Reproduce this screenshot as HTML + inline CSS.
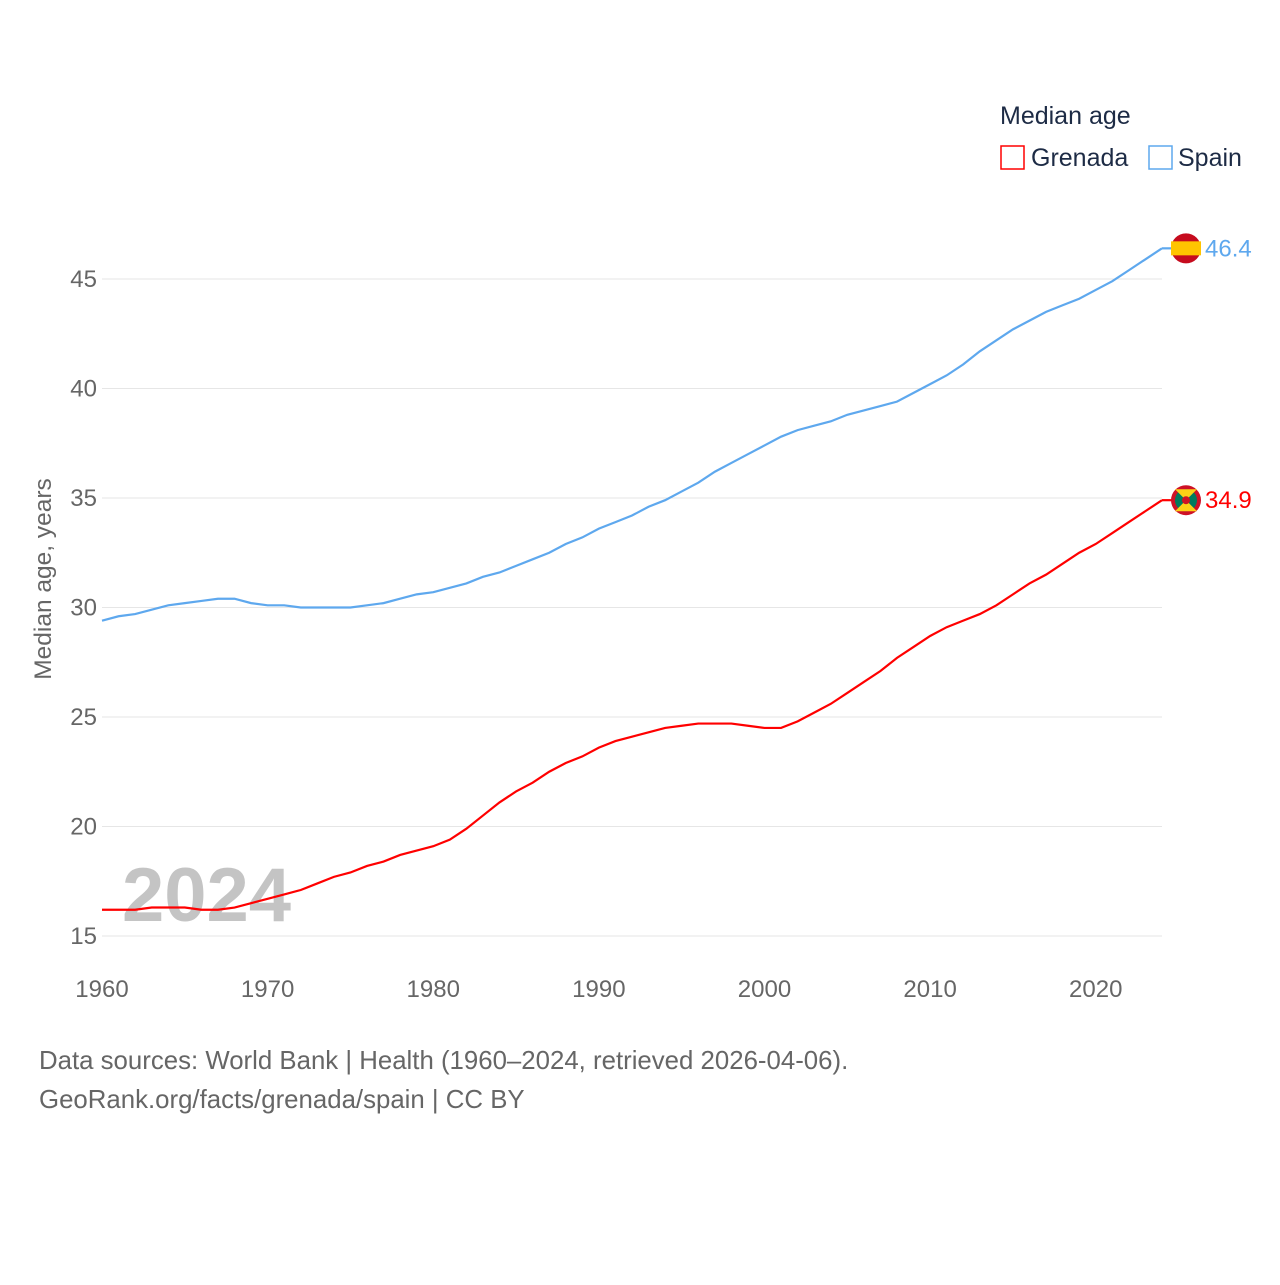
<!DOCTYPE html>
<html><head><meta charset="utf-8"><style>
body{margin:0;background:#fff;width:1280px;height:1280px;overflow:hidden;font-family:"Liberation Sans",sans-serif}
svg text{font-family:"Liberation Sans",sans-serif}
</style></head><body>
<svg id="chart" width="1280" height="1280" xmlns="http://www.w3.org/2000/svg">
<text x="1000" y="124" font-size="25" fill="#1d2b45">Median age</text>
<rect x="1001" y="146" width="23" height="23" fill="none" stroke="#ff0000" stroke-width="1.5"/>
<text x="1031" y="166" font-size="25" fill="#1d2b45">Grenada</text>
<rect x="1149" y="146" width="23" height="23" fill="none" stroke="#5ea8ee" stroke-width="1.5"/>
<text x="1178" y="166" font-size="25" fill="#1d2b45">Spain</text>
<g id="grid"></g><g id="xt"></g>
<text x="122" y="921" font-size="76" font-weight="bold" fill="#c4c4c4">2024</text>
<g id="lines"></g>
<text transform="translate(51,579) rotate(-90)" text-anchor="middle" font-size="24.5" fill="#666">Median age, years</text>
<text x="39" y="1069" font-size="25.8" fill="#666">Data sources: World Bank | Health (1960–2024, retrieved 2026-04-06).</text>
<text x="39" y="1108" font-size="25.8" fill="#666">GeoRank.org/facts/grenada/spain | CC BY</text>
</svg>
<script>
const years=[];for(let y=1960;y<=2024;y++)years.push(y);
const spain=[29.4,29.6,29.7,29.9,30.1,30.2,30.3,30.4,30.4,30.2,30.1,30.1,30.0,30.0,30.0,30.0,30.1,30.2,30.4,30.6,30.7,30.9,31.1,31.4,31.6,31.9,32.2,32.5,32.9,33.2,33.6,33.9,34.2,34.6,34.9,35.3,35.7,36.2,36.6,37.0,37.4,37.8,38.1,38.3,38.5,38.8,39.0,39.2,39.4,39.8,40.2,40.6,41.1,41.7,42.2,42.7,43.1,43.5,43.8,44.1,44.5,44.9,45.4,45.9,46.4];
const grenada=[16.2,16.2,16.2,16.3,16.3,16.3,16.2,16.2,16.3,16.5,16.7,16.9,17.1,17.4,17.7,17.9,18.2,18.4,18.7,18.9,19.1,19.4,19.9,20.5,21.1,21.6,22.0,22.5,22.9,23.2,23.6,23.9,24.1,24.3,24.5,24.6,24.7,24.7,24.7,24.6,24.5,24.5,24.8,25.2,25.6,26.1,26.6,27.1,27.7,28.2,28.7,29.1,29.4,29.7,30.1,30.6,31.1,31.5,32.0,32.5,32.9,33.4,33.9,34.4,34.9];
const yTicks=[15,20,25,30,35,40,45];
const xTicks=[1960,1970,1980,1990,2000,2010,2020];
const X=v=>102+(v-1960)*(1162-102)/64;
const Y=v=>936-(v-15)*(936-279)/30;
const NS="http://www.w3.org/2000/svg";
function mk(p,t,a){const e=document.createElementNS(NS,t);for(const k in a)e.setAttribute(k,a[k]);p.appendChild(e);return e;}
const g=document.getElementById('grid'),xt=document.getElementById('xt'),L=document.getElementById('lines');
yTicks.forEach(v=>{
 const l=mk(g,'line',{x1:102,x2:1162,y1:Y(v),y2:Y(v),stroke:'#e6e6e6','stroke-width':1});
 
 
 const t=mk(g,'text',{x:97,y:Y(v)+8,'text-anchor':'end','font-size':24,fill:'#666'});t.textContent=v;
 
 
});
xTicks.forEach(v=>{
 const t=mk(xt,'text',{x:X(v),y:997,'text-anchor':'middle','font-size':24,fill:'#666'});t.textContent=v;
 
 
});
function series(d,c,name,flag){
 const pts=d.map((v,i)=>X(years[i])+','+Y(v)).join(' ');
 const p=mk(L,'polyline',{points:pts,fill:'none',stroke:c,'stroke-width':2.2});
 
 
 const last=d[d.length-1],y=Y(last);
 mk(L,'line',{x1:1162,x2:1175,y1:y,y2:y,stroke:c,'stroke-width':2.2});
 const fg=mk(L,'g',{});
 
 
 flag(fg,1186,y);
 const t=mk(L,'text',{x:1205,y:y+8,'font-size':24,fill:c});t.textContent=last.toFixed(1);
 
 
}
series(spain,'#5ea8ee','spain',(p,x,y)=>{
 mk(p,'circle',{cx:x,cy:y,r:15,fill:'#c60b1e'});
 mk(p,'rect',{x:x-15,y:y-7,width:30,height:14,fill:'#ffc400'});
});
series(grenada,'#ff0000','grenada',(p,x,y)=>{
 mk(p,'circle',{cx:x,cy:y,r:15,fill:'#ce1126'});
 mk(p,'circle',{cx:x,cy:y,r:11,fill:'#007a5e'});
 mk(p,'polygon',{points:`${x-11},${y-11} ${x+11},${y-11} ${x},${y}`,fill:'#fcd116'});
 mk(p,'polygon',{points:`${x-11},${y+11} ${x+11},${y+11} ${x},${y}`,fill:'#fcd116'});
 mk(p,'circle',{cx:x,cy:y,r:4,fill:'#ce1126'});
});
</script>
</body></html>
